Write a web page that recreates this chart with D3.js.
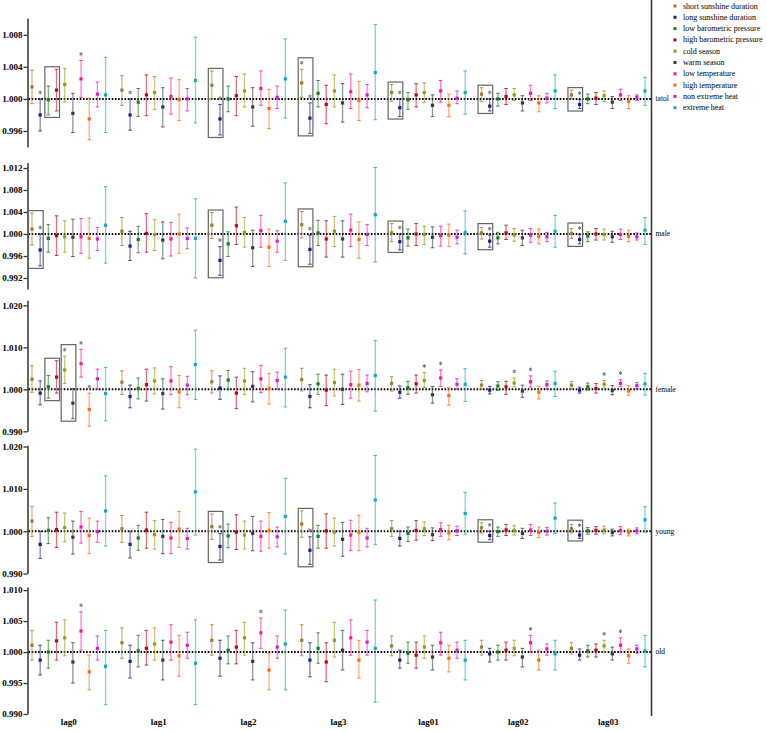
<!DOCTYPE html>
<html><head><meta charset="utf-8">
<script src="https://cdn.jsdelivr.net/npm/d3@7"></script>
<style>body{margin:0;background:#fff}svg{display:block}</style>
</head><body>
<svg id="c" width="767" height="732"></svg>
<script>
const lags = ["lag0","lag1","lag2","lag3","lag01","lag02","lag03"];
const seriesNames = ["short sunshine duration","long sunshine duration","low barometric pressure","high barometric pressure","cold season","warm season","low temperature","high temperature","non extreme heat","extreme heat"];
const seriesColors = ["#A57A2C","#1C1C8C","#1E7B1E","#C00018","#9A9A14","#3A3A3A","#FF1493","#FF6A10","#D21ED2","#18A8C0"];
const panelNames = ["tatol","male","female","young","old"];
const panelDomains = [[0.994,1.0101],[0.99,1.013],[0.99,1.0212],[0.99,1.0203],[0.99,1.0105]];
const panelTicks = [[0.996,1.000,1.004,1.008],[0.992,0.996,1.000,1.004,1.008,1.012],[0.990,1.000,1.010,1.020],[0.990,1.000,1.010,1.020],[0.990,0.995,1.000,1.005,1.010]];

// ---- tatol ----
const tatolEst = [
[1.0015,0.9980,0.9999,1.0011,1.0018,0.9982,1.0025,0.9975,1.0006,1.0005],
[1.0011,0.9980,0.9996,1.0005,1.0008,0.9990,1.0003,0.9999,1.0000,1.0023],
[1.0017,0.9975,1.0000,1.0004,1.0010,0.9990,1.0013,0.9988,1.0002,1.0025],
[1.0020,0.9976,1.0007,0.9993,1.0010,0.9995,1.0009,0.9998,1.0005,1.0033],
[1.0008,0.9989,0.9999,1.0005,1.0008,0.9992,1.0010,0.9992,1.0001,1.0008],
[1.0006,0.9991,1.0000,1.0003,1.0005,0.9995,1.0007,0.9995,1.0001,1.0010],
[1.0005,0.9993,1.0000,1.0001,1.0004,0.9996,1.0005,0.9997,1.0002,1.0010]];
const tatolLo = [
[0.9994,0.9960,0.9980,0.9985,0.9996,0.9958,1.0002,0.9949,0.9990,0.9958],
[0.9992,0.9961,0.9978,0.9979,0.9987,0.9965,0.9981,0.9973,0.9985,0.9970],
[1.0000,0.9955,0.9984,0.9979,0.9990,0.9966,0.9992,0.9963,0.9988,0.9976],
[1.0002,0.9957,0.9990,0.9969,0.9990,0.9971,0.9988,0.9973,0.9989,0.9974],
[0.9997,0.9978,0.9987,0.9990,0.9996,0.9978,0.9996,0.9978,0.9994,0.9981],
[0.9997,0.9985,0.9991,0.9993,0.9998,0.9985,0.9998,0.9984,0.9995,0.9988],
[1.0000,0.9988,0.9994,0.9993,0.9997,0.9988,0.9998,0.9988,0.9998,0.9992]];
const tatolHi = [
[1.0036,1.0000,1.0016,1.0037,1.0038,1.0007,1.0048,1.0001,1.0021,1.0052],
[1.0029,1.0000,1.0013,1.0030,1.0028,1.0014,1.0026,1.0024,1.0013,1.0077],
[1.0035,0.9993,1.0016,1.0028,1.0031,1.0014,1.0035,1.0012,1.0016,1.0075],
[1.0037,0.9995,1.0023,1.0017,1.0030,1.0019,1.0031,1.0022,1.0018,1.0093],
[1.0018,1.0000,1.0008,1.0019,1.0020,1.0005,1.0023,1.0006,1.0010,1.0035],
[1.0014,1.0000,1.0007,1.0013,1.0013,1.0004,1.0017,1.0004,1.0007,1.0030],
[1.0011,0.9999,1.0006,1.0008,1.0010,1.0003,1.0012,1.0004,1.0005,1.0027]];
const tatolStars = [["lag0",1],["lag0",6],["lag1",1],["lag2",1],["lag3",0],["lag3",1],["lag01",1],["lag02",1],["lag03",1]];
const tatolBoxes = [["lag0",2,3],["lag2",0,1],["lag3",0,1],["lag01",0,1],["lag02",0,1],["lag03",0,1]];

// ---- male ----
const maleEst = [
[1.0009,0.9971,0.9992,0.9997,0.9995,0.9994,0.9995,0.9992,0.9991,1.0016],
[1.0005,0.9978,0.9990,1.0001,0.9999,0.9989,0.9991,1.0000,0.9992,0.9992],
[1.0016,0.9952,0.9982,1.0015,1.0003,0.9975,1.0006,0.9976,0.9987,1.0023],
[1.0017,0.9972,1.0002,0.9991,1.0005,0.9991,1.0007,0.9990,0.9999,1.0035],
[1.0002,0.9986,0.9993,1.0000,0.9999,0.9994,0.9997,0.9998,0.9994,1.0003],
[1.0002,0.9987,0.9993,1.0002,0.9998,0.9993,0.9998,0.9996,0.9995,1.0005],
[1.0001,0.9990,0.9996,1.0000,0.9999,0.9995,0.9999,0.9996,0.9995,1.0007]];
const maleLo = [
[0.9980,0.9942,0.9967,0.9961,0.9967,0.9959,0.9965,0.9956,0.9970,0.9947],
[0.9979,0.9952,0.9966,0.9967,0.9970,0.9955,0.9960,0.9965,0.9973,0.9920],
[0.9992,0.9925,0.9959,0.9981,0.9976,0.9941,0.9976,0.9941,0.9967,0.9952],
[0.9993,0.9945,0.9979,0.9958,0.9977,0.9958,0.9977,0.9956,0.9979,0.9949],
[0.9986,0.9971,0.9978,0.9979,0.9981,0.9975,0.9978,0.9977,0.9982,0.9964],
[0.9991,0.9976,0.9982,0.9990,0.9987,0.9979,0.9985,0.9982,0.9986,0.9976],
[0.9992,0.9982,0.9986,0.9989,0.9989,0.9985,0.9990,0.9986,0.9989,0.9981]];
const maleHi = [
[1.0038,1.0000,1.0017,1.0033,1.0024,1.0027,1.0028,1.0029,1.0012,1.0086],
[1.0030,1.0005,1.0014,1.0037,1.0026,1.0022,1.0021,1.0036,1.0011,1.0064],
[1.0039,0.9977,1.0004,1.0049,1.0030,1.0007,1.0034,1.0009,1.0006,1.0093],
[1.0041,0.9998,1.0025,1.0024,1.0032,1.0024,1.0036,1.0022,1.0017,1.0121],
[1.0019,1.0000,1.0009,1.0019,1.0014,1.0013,1.0014,1.0018,1.0007,1.0042],
[1.0012,0.9998,1.0003,1.0016,1.0010,1.0007,1.0010,1.0009,1.0003,1.0034],
[1.0010,0.9999,1.0004,1.0010,1.0009,1.0005,1.0009,1.0007,1.0002,1.0030]];
const maleStars = [["lag0",1],["lag2",1],["lag3",1],["lag01",1],["lag02",1],["lag03",1]];
const maleBoxes = [["lag0",0,1],["lag2",0,1],["lag3",0,1],["lag01",0,1],["lag02",0,1],["lag03",0,1]];

// ---- female ----
const femaleEst = [
[1.0024,0.9991,1.0006,1.0029,1.0046,0.9967,1.0061,0.9952,1.0025,0.9990],
[1.0017,0.9983,1.0002,1.0011,1.0020,0.9990,1.0020,0.9994,1.0010,1.0059],
[1.0018,1.0003,1.0022,0.9991,1.0020,1.0007,1.0025,1.0002,1.0021,1.0029],
[1.0023,0.9983,1.0013,0.9998,1.0016,1.0000,1.0011,1.0010,1.0014,1.0033],
[1.0014,0.9993,1.0004,1.0013,1.0021,0.9987,1.0027,0.9985,1.0012,1.0012],
[1.0010,0.9998,1.0008,1.0006,1.0015,0.9996,1.0018,0.9993,1.0011,1.0014],
[1.0010,0.9998,1.0006,1.0002,1.0012,0.9997,1.0014,0.9996,1.0009,1.0013]];
const femaleLo = [
[0.9993,0.9963,0.9979,0.9991,1.0014,0.9930,1.0029,0.9912,1.0000,0.9925],
[0.9988,0.9956,0.9977,0.9972,0.9989,0.9953,0.9987,0.9956,0.9987,0.9976],
[0.9991,0.9976,0.9999,0.9954,0.9988,0.9970,0.9992,0.9965,1.0000,0.9958],
[0.9996,0.9956,0.9988,0.9961,0.9984,0.9964,0.9979,0.9972,0.9994,0.9948],
[0.9996,0.9979,0.9988,0.9991,1.0005,0.9967,1.0007,0.9962,1.0000,0.9971],
[1.0000,0.9989,0.9997,0.9988,1.0006,0.9981,1.0005,0.9977,1.0000,0.9983],
[1.0000,0.9991,0.9998,0.9991,1.0003,0.9987,1.0006,0.9986,1.0002,0.9986]];
const femaleHi = [
[1.0056,1.0020,1.0033,1.0068,1.0079,1.0002,1.0095,0.9991,1.0048,1.0052],
[1.0044,1.0010,1.0027,1.0048,1.0051,1.0025,1.0054,1.0033,1.0031,1.0141],
[1.0044,1.0032,1.0045,1.0029,1.0050,1.0042,1.0057,1.0038,1.0041,1.0098],
[1.0050,1.0011,1.0036,1.0034,1.0048,1.0036,1.0043,1.0047,1.0034,1.0116],
[1.0030,1.0008,1.0019,1.0034,1.0040,1.0007,1.0046,1.0004,1.0025,1.0049],
[1.0021,1.0007,1.0018,1.0019,1.0027,1.0010,1.0032,1.0007,1.0020,1.0043],
[1.0019,1.0005,1.0015,1.0014,1.0021,1.0009,1.0023,1.0008,1.0016,1.0038]];
const femaleStars = [["lag0",4],["lag0",6],["lag0",7],["lag01",4],["lag01",6],["lag02",4],["lag02",6],["lag03",4],["lag03",6]];
const femaleBoxes = [["lag0",2,3],["lag0",4,5]];

// ---- young ----
const youngEst = [
[1.0024,0.9969,1.0002,1.0004,1.0009,0.9986,1.0010,0.9990,0.9999,1.0048],
[1.0006,0.9969,0.9984,1.0003,0.9992,0.9988,0.9984,1.0005,0.9983,1.0093],
[1.0011,0.9964,0.9989,0.9998,0.9991,0.9995,0.9988,1.0002,0.9987,1.0035],
[1.0017,0.9955,0.9988,1.0001,0.9998,0.9981,0.9991,0.9997,0.9984,1.0074],
[1.0006,0.9983,0.9995,1.0002,1.0006,0.9992,1.0004,0.9996,1.0001,1.0042],
[1.0008,0.9990,0.9999,1.0003,1.0002,0.9995,1.0003,0.9997,1.0000,1.0031],
[1.0006,0.9991,1.0001,1.0002,1.0003,0.9997,1.0002,0.9997,1.0001,1.0027]];
const youngLo = [
[0.9988,0.9936,0.9971,0.9962,0.9975,0.9946,0.9972,0.9947,0.9974,0.9965],
[0.9974,0.9937,0.9955,0.9960,0.9958,0.9947,0.9947,0.9962,0.9958,0.9991],
[0.9981,0.9932,0.9961,0.9957,0.9958,0.9954,0.9953,0.9960,0.9963,0.9946],
[0.9986,0.9922,0.9960,0.9960,0.9965,0.9941,0.9955,0.9954,0.9963,0.9969],
[0.9988,0.9965,0.9976,0.9979,0.9990,0.9978,0.9988,0.9980,0.9990,0.9993],
[0.9996,0.9980,0.9988,0.9990,0.9991,0.9983,0.9990,0.9985,0.9991,0.9995],
[0.9996,0.9983,0.9993,0.9993,0.9994,0.9989,0.9993,0.9989,0.9994,0.9998]];
const youngHi = [
[1.0058,1.0000,1.0032,1.0045,1.0043,1.0024,1.0047,1.0031,1.0024,1.0131],
[1.0037,1.0000,1.0014,1.0045,1.0025,1.0028,1.0021,1.0047,1.0007,1.0194],
[1.0041,0.9995,1.0017,1.0039,1.0024,1.0035,1.0024,1.0044,1.0010,1.0125],
[1.0048,0.9987,1.0014,1.0041,1.0031,1.0021,1.0026,1.0038,1.0007,1.0179],
[1.0025,1.0000,1.0010,1.0025,1.0022,1.0008,1.0020,1.0014,1.0012,1.0092],
[1.0020,1.0000,1.0010,1.0016,1.0013,1.0007,1.0016,1.0010,1.0009,1.0067],
[1.0016,0.9999,1.0009,1.0011,1.0012,1.0005,1.0011,1.0005,1.0008,1.0058]];
const youngStars = [["lag2",1],["lag3",1],["lag02",1],["lag03",1]];
const youngBoxes = [["lag2",0,1],["lag3",0,1],["lag02",0,1],["lag03",0,1]];

// ---- old ----
const oldEst = [
[1.0011,0.9987,1.0000,1.0018,1.0023,0.9984,1.0034,0.9968,1.0006,0.9977],
[1.0015,0.9985,1.0002,1.0006,1.0013,0.9987,1.0016,0.9994,1.0011,0.9982],
[1.0019,0.9990,1.0003,1.0008,1.0023,0.9985,1.0031,0.9971,1.0008,1.0013],
[1.0019,0.9987,1.0006,0.9984,1.0019,1.0003,1.0023,0.9987,1.0016,1.0006],
[1.0010,0.9987,0.9998,0.9995,1.0008,0.9992,1.0015,0.9990,1.0003,0.9987],
[1.0008,0.9997,1.0000,1.0003,1.0006,0.9992,1.0015,0.9987,1.0005,0.9997],
[1.0006,0.9995,1.0002,1.0003,1.0010,0.9997,1.0011,0.9994,1.0005,1.0002]];
const oldLo = [
[0.9987,0.9963,0.9974,0.9987,0.9994,0.9950,1.0003,0.9939,0.9987,0.9915],
[0.9990,0.9958,0.9976,0.9979,0.9987,0.9955,0.9987,0.9961,0.9990,0.9915],
[0.9995,0.9961,0.9981,0.9981,0.9995,0.9955,1.0006,0.9939,0.9990,0.9939],
[0.9994,0.9960,0.9982,0.9952,0.9992,0.9971,0.9995,0.9958,0.9995,0.9919],
[0.9994,0.9974,0.9982,0.9974,0.9990,0.9971,0.9995,0.9968,0.9990,0.9955],
[0.9995,0.9984,0.9987,0.9987,0.9994,0.9976,1.0000,0.9971,0.9995,0.9971],
[0.9997,0.9987,0.9992,0.9992,1.0000,0.9987,1.0000,0.9982,0.9998,0.9976]];
const oldHi = [
[1.0035,1.0011,1.0019,1.0048,1.0052,1.0015,1.0065,0.9995,1.0026,1.0035],
[1.0039,1.0011,1.0027,1.0035,1.0039,1.0019,1.0044,1.0027,1.0032,1.0052],
[1.0044,1.0019,1.0026,1.0035,1.0048,1.0015,1.0055,0.9998,1.0026,1.0068],
[1.0044,1.0015,1.0031,1.0015,1.0048,1.0035,1.0052,1.0019,1.0035,1.0084],
[1.0026,1.0003,1.0016,1.0016,1.0026,1.0011,1.0032,1.0011,1.0016,1.0019],
[1.0019,1.0006,1.0011,1.0016,1.0019,1.0006,1.0027,1.0003,1.0013,1.0019],
[1.0015,1.0005,1.0011,1.0013,1.0019,1.0008,1.0023,1.0005,1.0011,1.0027]];
const oldStars = [["lag0",6],["lag2",6],["lag02",6],["lag03",4],["lag03",6]];
const oldBoxes = [];

const panelEst = [tatolEst, maleEst, femaleEst, youngEst, oldEst];
const panelLo = [tatolLo, maleLo, femaleLo, youngLo, oldLo];
const panelHi = [tatolHi, maleHi, femaleHi, youngHi, oldHi];
const panelStars = [tatolStars, maleStars, femaleStars, youngStars, oldStars];
const panelBoxes = [tatolBoxes, maleBoxes, femaleBoxes, youngBoxes, oldBoxes];

// ---------- drawing ----------
const svg = d3.select("#c");
const AXIS_X = 27.5, RIGHT_X = 651.5;
const panelRanges = [[147,18],[289,162.5],[431.3,300.3],[573.6,445.3],[714,587]];
const slotsPerGroup = seriesNames.length + 1;
const x = d3.scaleLinear().domain([0, (lags.length-1)*slotsPerGroup + seriesNames.length - 1]).range([32, 645]);
const slot = (lag, s) => x(lags.indexOf(lag)*slotsPerGroup + s);
const serif = "'Liberation Serif','Times New Roman',serif";
const star = d3.symbol().type(d3.symbolAsterisk).size(9);

panelNames.forEach((name, p) => {
  const y = d3.scaleLinear().domain(panelDomains[p]).range(panelRanges[p]);
  const g = svg.append("g");
  const ax = g.append("g").attr("transform", `translate(${AXIS_X},0)`)
    .call(d3.axisLeft(y).tickValues(panelTicks[p]).tickFormat(d3.format(".3f")).tickSize(4).tickSizeOuter(0));
  ax.select(".domain").attr("stroke","#333").attr("stroke-width",1.5);
  ax.selectAll(".tick line").attr("stroke","#333").attr("stroke-width",1.3);
  ax.selectAll(".tick text").attr("font-family",serif).attr("font-weight","bold").attr("font-size",9).attr("fill","#000").attr("x",-5);
  g.append("line").attr("x1",AXIS_X+1).attr("x2",RIGHT_X).attr("y1",y(1)).attr("y2",y(1))
    .attr("stroke","#000").attr("stroke-width",2).attr("stroke-dasharray","1.6,1.6");
  g.append("text").attr("x",RIGHT_X+4).attr("y",y(1)).attr("dy","0.32em")
    .attr("font-family",serif).attr("font-size",7.5).attr("fill","#000").text(name);

  const recs = [];
  lags.forEach((lag, li) => seriesNames.forEach((sn, s) => {
    recs.push({lag, s, est: panelEst[p][li][s], lo: panelLo[p][li][s], hi: panelHi[p][li][s]});
  }));
  const mk = g.selectAll("g.m").data(recs).join("g").attr("class","m");
  mk.append("line").attr("x1",d=>slot(d.lag,d.s)).attr("x2",d=>slot(d.lag,d.s))
    .attr("y1",d=>y(d.lo)).attr("y2",d=>y(d.hi))
    .attr("stroke",d=>seriesColors[d.s]).attr("stroke-opacity",0.55).attr("stroke-width",1.3);
  ["lo","hi"].forEach(k => mk.append("line")
    .attr("x1",d=>slot(d.lag,d.s)-1.8).attr("x2",d=>slot(d.lag,d.s)+1.8)
    .attr("y1",d=>y(d[k])).attr("y2",d=>y(d[k]))
    .attr("stroke",d=>seriesColors[d.s]).attr("stroke-opacity",0.8).attr("stroke-width",1));
  mk.append("rect").attr("x",d=>slot(d.lag,d.s)-1.6).attr("y",d=>y(d.est)-1.6)
    .attr("width",3.2).attr("height",3.2).attr("fill",d=>seriesColors[d.s]);

  const hiOf = (lag,s) => panelHi[p][lags.indexOf(lag)][s];
  const loOf = (lag,s) => panelLo[p][lags.indexOf(lag)][s];
  const starY = (lag,s) => y(hiOf(lag,s)) - 6.5;
  const starSet = new Set(panelStars[p].map(d=>d[0]+"|"+d[1]));
  g.selectAll("path.st").data(panelStars[p]).join("path").attr("class","st")
    .attr("d", star).attr("transform", d=>`translate(${slot(d[0],d[1])},${starY(d[0],d[1])})`)
    .attr("fill","none").attr("stroke","#777").attr("stroke-width",1);

  g.selectAll("rect.bx").data(panelBoxes[p]).join("rect").attr("class","bx")
    .each(function(d){
      const ss = d3.range(d[1], d[2]+1);
      const top = d3.min(ss, s => starSet.has(d[0]+"|"+s) ? Math.min(y(hiOf(d[0],s)), starY(d[0],s)-2.5) : y(hiOf(d[0],s))) - 2.5;
      const bot = d3.max(ss, s => y(loOf(d[0],s))) + 2.5;
      const x0 = slot(d[0],d[1]) - 3.5, x1 = slot(d[0],d[2]) + 3;
      d3.select(this).attr("x",x0).attr("y",top).attr("width",x1-x0).attr("height",bot-top);
    })
    .attr("fill","none").attr("stroke","#666").attr("stroke-width",1.2);
});

svg.append("line").attr("x1",RIGHT_X).attr("x2",RIGHT_X).attr("y1",0).attr("y2",716)
  .attr("stroke","#333").attr("stroke-width",1.5);

svg.append("g").selectAll("text").data(lags).join("text")
  .attr("x",(d,i)=>x(i*slotsPerGroup + (seriesNames.length-1)/2)).attr("y",725)
  .attr("text-anchor","middle").attr("font-family",serif).attr("font-weight","bold")
  .attr("font-size",9).attr("fill","#000").text(d=>d);

const lg = svg.append("g").selectAll("g").data(seriesNames).join("g")
  .attr("transform",(d,i)=>`translate(675,${6+i*11.3})`);
lg.append("rect").attr("x",-1.5).attr("y",-1.5).attr("width",3).attr("height",3).attr("fill",(d,i)=>seriesColors[i]);
lg.append("text").attr("x",8).attr("dy","0.32em").attr("font-family",serif).attr("font-size",8)
  .attr("fill","#000").text(d=>d);
</script>
</body></html>
